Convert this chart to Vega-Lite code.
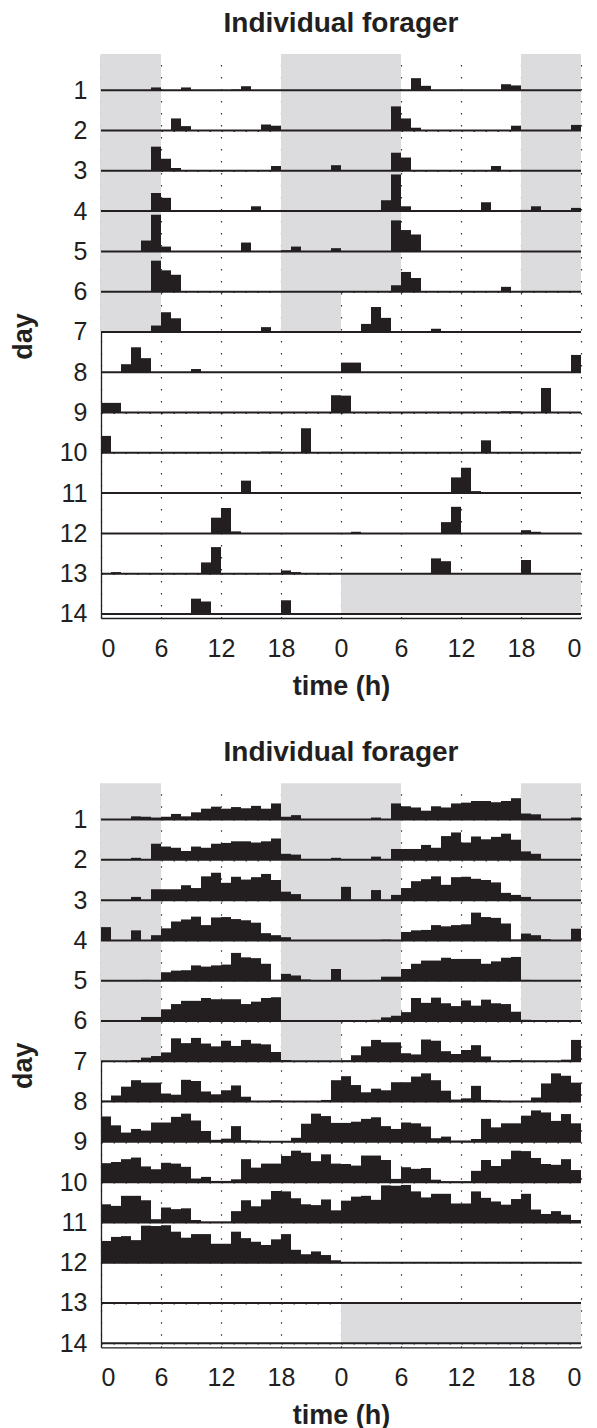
{
  "$schema": "https://vega.github.io/schema/vega-lite/v6.json",
  "autosize": {"type": "pad"},
  "padding": {"left": 9, "top": 9, "right": 5, "bottom": 0},
  "background": "white",
  "bounds": "flush",
  "spacing": 165.3,
  "config": {
    "view": {"stroke": null},
    "font": "Liberation Sans",
    "axis": {
      "domainColor": "#231f20", "domainWidth": 1.3,
      "labelFont": "Liberation Sans", "labelFontSize": 25, "labelColor": "#231f20",
      "titleFont": "Liberation Sans", "titleFontSize": 27, "titleFontWeight": "bold", "titleColor": "#231f20",
      "ticks": false, "grid": true, "gridDash": [1.5, 10.5], "gridColor": "#333333", "gridWidth": 1.2,
      "zindex": 1
    },
    "axisX": {"labelPadding": 18, "titlePadding": 12},
    "axisY": {"labelPadding": 14, "titlePadding": 22},
    "title": {"font": "Liberation Sans", "fontSize": 28, "fontWeight": "bold", "color": "#231f20", "baseline": "alphabetic", "offset": 16.5, "anchor": "middle"}
  },
  "datasets": {
    "rows": [{"r":1},{"r":2},{"r":3},{"r":4},{"r":5},{"r":6},{"r":7},{"r":8},{"r":9},{"r":10},{"r":11},{"r":12},{"r":13},{"r":14}],
    "shade": [
      {"r":1,"a":0,"b":6},{"r":1,"a":18,"b":30},{"r":1,"a":42,"b":48},
      {"r":2,"a":0,"b":6},{"r":2,"a":18,"b":30},{"r":2,"a":42,"b":48},
      {"r":3,"a":0,"b":6},{"r":3,"a":18,"b":30},{"r":3,"a":42,"b":48},
      {"r":4,"a":0,"b":6},{"r":4,"a":18,"b":30},{"r":4,"a":42,"b":48},
      {"r":5,"a":0,"b":6},{"r":5,"a":18,"b":30},{"r":5,"a":42,"b":48},
      {"r":6,"a":0,"b":6},{"r":6,"a":18,"b":30},{"r":6,"a":42,"b":48},
      {"r":7,"a":0,"b":6},{"r":7,"a":18,"b":24},
      {"r":14,"a":24,"b":48}
    ],
    "top": [
      {"d":1,"h":5,"v":0.07},{"d":1,"h":8,"v":0.07},{"d":1,"h":13,"v":0.02},{"d":1,"h":14,"v":0.1},
      {"d":2,"h":7,"v":0.3},{"d":2,"h":8,"v":0.11},{"d":2,"h":16,"v":0.15},{"d":2,"h":17,"v":0.12},
      {"d":3,"h":5,"v":0.6},{"d":3,"h":6,"v":0.3},{"d":3,"h":7,"v":0.07},{"d":3,"h":17,"v":0.12},{"d":3,"h":23,"v":0.14},
      {"d":4,"h":5,"v":0.45},{"d":4,"h":6,"v":0.33},{"d":4,"h":15,"v":0.12},
      {"d":5,"h":4,"v":0.27},{"d":5,"h":5,"v":0.91},{"d":5,"h":6,"v":0.12},{"d":5,"h":14,"v":0.22},{"d":5,"h":18,"v":0.03},{"d":5,"h":19,"v":0.12},{"d":5,"h":23,"v":0.08},
      {"d":6,"h":5,"v":0.77},{"d":6,"h":6,"v":0.53},{"d":6,"h":7,"v":0.42},
      {"d":7,"h":5,"v":0.16},{"d":7,"h":6,"v":0.49},{"d":7,"h":7,"v":0.34},{"d":7,"h":16,"v":0.12},
      {"d":8,"h":2,"v":0.2},{"d":8,"h":3,"v":0.62},{"d":8,"h":4,"v":0.35},{"d":8,"h":9,"v":0.08},
      {"d":9,"h":0,"v":0.24},{"d":9,"h":1,"v":0.24},{"d":9,"h":23,"v":0.43},
      {"d":10,"h":0,"v":0.42},{"d":10,"h":16,"v":0.03},{"d":10,"h":17,"v":0.03},{"d":10,"h":20,"v":0.61},
      {"d":11,"h":14,"v":0.31},
      {"d":12,"h":11,"v":0.39},{"d":12,"h":12,"v":0.63},{"d":12,"h":13,"v":0.05},
      {"d":13,"h":1,"v":0.04},{"d":13,"h":10,"v":0.28},{"d":13,"h":11,"v":0.66},{"d":13,"h":18,"v":0.08},{"d":13,"h":19,"v":0.04},
      {"d":14,"h":9,"v":0.38},{"d":14,"h":10,"v":0.31},{"d":14,"h":18,"v":0.34}
    ],
    "bot": [
      {"d":1,"h":3,"v":0.08},{"d":1,"h":4,"v":0.07},{"d":1,"h":5,"v":0.05},{"d":1,"h":6,"v":0.07},{"d":1,"h":7,"v":0.14},{"d":1,"h":8,"v":0.08},{"d":1,"h":9,"v":0.18},{"d":1,"h":10,"v":0.27},{"d":1,"h":11,"v":0.32},{"d":1,"h":12,"v":0.27},{"d":1,"h":13,"v":0.31},{"d":1,"h":14,"v":0.28},{"d":1,"h":15,"v":0.34},{"d":1,"h":16,"v":0.27},{"d":1,"h":17,"v":0.4},{"d":1,"h":18,"v":0.07},{"d":1,"h":19,"v":0.11},
      {"d":2,"h":3,"v":0.05},{"d":2,"h":5,"v":0.4},{"d":2,"h":6,"v":0.33},{"d":2,"h":7,"v":0.3},{"d":2,"h":8,"v":0.22},{"d":2,"h":9,"v":0.33},{"d":2,"h":10,"v":0.3},{"d":2,"h":11,"v":0.4},{"d":2,"h":12,"v":0.42},{"d":2,"h":13,"v":0.46},{"d":2,"h":14,"v":0.46},{"d":2,"h":15,"v":0.43},{"d":2,"h":16,"v":0.46},{"d":2,"h":17,"v":0.53},{"d":2,"h":18,"v":0.15},{"d":2,"h":19,"v":0.13},{"d":2,"h":23,"v":0.05},
      {"d":3,"h":3,"v":0.08},{"d":3,"h":5,"v":0.27},{"d":3,"h":6,"v":0.27},{"d":3,"h":7,"v":0.27},{"d":3,"h":8,"v":0.37},{"d":3,"h":9,"v":0.3},{"d":3,"h":10,"v":0.59},{"d":3,"h":11,"v":0.68},{"d":3,"h":12,"v":0.43},{"d":3,"h":13,"v":0.58},{"d":3,"h":14,"v":0.51},{"d":3,"h":15,"v":0.57},{"d":3,"h":16,"v":0.65},{"d":3,"h":17,"v":0.5},{"d":3,"h":18,"v":0.21},{"d":3,"h":19,"v":0.15},
      {"d":4,"h":0,"v":0.33},{"d":4,"h":3,"v":0.25},{"d":4,"h":5,"v":0.13},{"d":4,"h":6,"v":0.3},{"d":4,"h":7,"v":0.47},{"d":4,"h":8,"v":0.52},{"d":4,"h":9,"v":0.59},{"d":4,"h":10,"v":0.38},{"d":4,"h":11,"v":0.57},{"d":4,"h":12,"v":0.58},{"d":4,"h":13,"v":0.53},{"d":4,"h":14,"v":0.5},{"d":4,"h":15,"v":0.44},{"d":4,"h":16,"v":0.18},{"d":4,"h":17,"v":0.13},{"d":4,"h":18,"v":0.08},
      {"d":5,"h":4,"v":0.02},{"d":5,"h":6,"v":0.21},{"d":5,"h":7,"v":0.25},{"d":5,"h":8,"v":0.26},{"d":5,"h":9,"v":0.38},{"d":5,"h":10,"v":0.35},{"d":5,"h":11,"v":0.38},{"d":5,"h":12,"v":0.4},{"d":5,"h":13,"v":0.69},{"d":5,"h":14,"v":0.58},{"d":5,"h":15,"v":0.56},{"d":5,"h":16,"v":0.42},{"d":5,"h":17,"v":0.02},{"d":5,"h":18,"v":0.17},{"d":5,"h":19,"v":0.13},{"d":5,"h":20,"v":0.03},{"d":5,"h":23,"v":0.29},
      {"d":6,"h":3,"v":0.02},{"d":6,"h":4,"v":0.1},{"d":6,"h":5,"v":0.1},{"d":6,"h":6,"v":0.29},{"d":6,"h":7,"v":0.42},{"d":6,"h":8,"v":0.5},{"d":6,"h":9,"v":0.5},{"d":6,"h":10,"v":0.57},{"d":6,"h":11,"v":0.54},{"d":6,"h":12,"v":0.54},{"d":6,"h":13,"v":0.54},{"d":6,"h":14,"v":0.42},{"d":6,"h":15,"v":0.48},{"d":6,"h":16,"v":0.57},{"d":6,"h":17,"v":0.59},{"d":6,"h":18,"v":0.02},
      {"d":7,"h":3,"v":0.03},{"d":7,"h":4,"v":0.09},{"d":7,"h":5,"v":0.13},{"d":7,"h":6,"v":0.22},{"d":7,"h":7,"v":0.57},{"d":7,"h":8,"v":0.45},{"d":7,"h":9,"v":0.58},{"d":7,"h":10,"v":0.44},{"d":7,"h":11,"v":0.37},{"d":7,"h":12,"v":0.51},{"d":7,"h":13,"v":0.38},{"d":7,"h":14,"v":0.53},{"d":7,"h":15,"v":0.44},{"d":7,"h":16,"v":0.42},{"d":7,"h":17,"v":0.23},{"d":7,"h":18,"v":0.03},
      {"d":8,"h":0,"v":0.02},{"d":8,"h":1,"v":0.15},{"d":8,"h":2,"v":0.37},{"d":8,"h":3,"v":0.53},{"d":8,"h":4,"v":0.47},{"d":8,"h":5,"v":0.47},{"d":8,"h":6,"v":0.2},{"d":8,"h":7,"v":0.17},{"d":8,"h":8,"v":0.54},{"d":8,"h":9,"v":0.51},{"d":8,"h":10,"v":0.25},{"d":8,"h":11,"v":0.18},{"d":8,"h":12,"v":0.28},{"d":8,"h":13,"v":0.4},{"d":8,"h":14,"v":0.12},{"d":8,"h":17,"v":0.03},{"d":8,"h":22,"v":0.04},{"d":8,"h":23,"v":0.53},
      {"d":9,"h":0,"v":0.63},{"d":9,"h":1,"v":0.41},{"d":9,"h":2,"v":0.23},{"d":9,"h":3,"v":0.32},{"d":9,"h":4,"v":0.28},{"d":9,"h":5,"v":0.48},{"d":9,"h":6,"v":0.48},{"d":9,"h":7,"v":0.62},{"d":9,"h":8,"v":0.7},{"d":9,"h":9,"v":0.53},{"d":9,"h":10,"v":0.27},{"d":9,"h":11,"v":0.05},{"d":9,"h":12,"v":0.08},{"d":9,"h":13,"v":0.39},{"d":9,"h":14,"v":0.04},{"d":9,"h":15,"v":0.03},{"d":9,"h":19,"v":0.1},{"d":9,"h":20,"v":0.45},{"d":9,"h":21,"v":0.7},{"d":9,"h":22,"v":0.64},{"d":9,"h":23,"v":0.47},
      {"d":10,"h":0,"v":0.47},{"d":10,"h":1,"v":0.5},{"d":10,"h":2,"v":0.57},{"d":10,"h":3,"v":0.61},{"d":10,"h":4,"v":0.39},{"d":10,"h":5,"v":0.32},{"d":10,"h":6,"v":0.48},{"d":10,"h":7,"v":0.46},{"d":10,"h":8,"v":0.38},{"d":10,"h":9,"v":0.09},{"d":10,"h":10,"v":0.13},{"d":10,"h":11,"v":0.03},{"d":10,"h":12,"v":0.03},{"d":10,"h":13,"v":0.07},{"d":10,"h":14,"v":0.57},{"d":10,"h":15,"v":0.36},{"d":10,"h":16,"v":0.46},{"d":10,"h":17,"v":0.46},{"d":10,"h":18,"v":0.65},{"d":10,"h":19,"v":0.78},{"d":10,"h":20,"v":0.73},{"d":10,"h":21,"v":0.52},{"d":10,"h":22,"v":0.69},{"d":10,"h":23,"v":0.46},
      {"d":11,"h":0,"v":0.45},{"d":11,"h":1,"v":0.41},{"d":11,"h":2,"v":0.66},{"d":11,"h":3,"v":0.66},{"d":11,"h":4,"v":0.55},{"d":11,"h":5,"v":0.08},{"d":11,"h":6,"v":0.37},{"d":11,"h":7,"v":0.33},{"d":11,"h":8,"v":0.35},{"d":11,"h":9,"v":0.06},{"d":11,"h":10,"v":0.02},{"d":11,"h":11,"v":0.02},{"d":11,"h":12,"v":0.02},{"d":11,"h":13,"v":0.28},{"d":11,"h":14,"v":0.55},{"d":11,"h":15,"v":0.4},{"d":11,"h":16,"v":0.57},{"d":11,"h":17,"v":0.78},{"d":11,"h":18,"v":0.77},{"d":11,"h":19,"v":0.6},{"d":11,"h":20,"v":0.45},{"d":11,"h":21,"v":0.43},{"d":11,"h":22,"v":0.57},{"d":11,"h":23,"v":0.3},
      {"d":12,"h":0,"v":0.54},{"d":12,"h":1,"v":0.64},{"d":12,"h":2,"v":0.66},{"d":12,"h":3,"v":0.56},{"d":12,"h":4,"v":0.92},{"d":12,"h":5,"v":0.91},{"d":12,"h":6,"v":0.93},{"d":12,"h":7,"v":0.77},{"d":12,"h":8,"v":0.62},{"d":12,"h":9,"v":0.71},{"d":12,"h":10,"v":0.71},{"d":12,"h":11,"v":0.47},{"d":12,"h":12,"v":0.47},{"d":12,"h":13,"v":0.77},{"d":12,"h":14,"v":0.61},{"d":12,"h":15,"v":0.52},{"d":12,"h":16,"v":0.44},{"d":12,"h":17,"v":0.58},{"d":12,"h":18,"v":0.71},{"d":12,"h":19,"v":0.32},{"d":12,"h":20,"v":0.21},{"d":12,"h":21,"v":0.28},{"d":12,"h":22,"v":0.19},{"d":12,"h":23,"v":0.06}
    ]
  },
  "vconcat": [
    {
      "width": 480, "height": 564,
      "title": {"text": "Individual forager"},
      "layer": [
        {
          "data": {"name": "shade"},
          "transform": [{"calculate": "datum.r - 1", "as": "r0"}],
          "mark": {"type": "rect", "color": "#dcdcde", "clip": true},
          "encoding": {
            "x": {"field": "a", "type": "quantitative", "title": "time (h)", "scale": {"domain": [0, 48], "nice": false, "zero": false},
                  "axis": {"values": [0, 6, 12, 18, 24, 30, 36, 42, 48], "labelExpr": "datum.value % 24"}},
            "x2": {"field": "b"},
            "y": {"field": "r0", "type": "quantitative", "title": "day", "scale": {"domain": [0.1, 14.1], "reverse": true, "nice": false, "zero": false},
                  "axis": {"values": [1, 2, 3, 4, 5, 6, 7, 8, 9, 10, 11, 12, 13, 14]}},
            "y2": {"field": "r"}
          }
        },
        {
          "data": {"name": "rows"},
          "mark": {"type": "rule", "color": "#231f20", "strokeWidth": 2},
          "encoding": {
            "x": {"datum": 0, "type": "quantitative", "title": "time (h)"},
            "x2": {"datum": 48},
            "y": {"field": "r", "type": "quantitative", "title": "day"}
          }
        },
        {
          "data": {"name": "top"},
          "transform": [{"calculate": "datum.h + 1", "as": "h1"}, {"calculate": "datum.d - datum.v", "as": "t"}],
          "mark": {"type": "rect", "color": "#231f20"},
          "encoding": {
            "x": {"field": "h", "type": "quantitative", "title": "time (h)"},
            "x2": {"field": "h1"},
            "y": {"field": "t", "type": "quantitative", "title": "day"},
            "y2": {"field": "d"}
          }
        },
        {
          "data": {"name": "top"},
          "transform": [{"filter": "datum.d >= 2"}, {"calculate": "datum.h + 24", "as": "hs"}, {"calculate": "datum.h + 25", "as": "he"}, {"calculate": "datum.d - 1", "as": "rw"}, {"calculate": "datum.d - 1 - datum.v", "as": "t"}],
          "mark": {"type": "rect", "color": "#231f20"},
          "encoding": {
            "x": {"field": "hs", "type": "quantitative", "title": "time (h)"},
            "x2": {"field": "he"},
            "y": {"field": "t", "type": "quantitative", "title": "day"},
            "y2": {"field": "rw"}
          }
        }
      ]
    },
    {
      "width": 480, "height": 564,
      "title": {"text": "Individual forager"},
      "layer": [
        {
          "data": {"name": "shade"},
          "transform": [{"calculate": "datum.r - 1", "as": "r0"}],
          "mark": {"type": "rect", "color": "#dcdcde", "clip": true},
          "encoding": {
            "x": {"field": "a", "type": "quantitative", "title": "time (h)", "scale": {"domain": [0, 48], "nice": false, "zero": false},
                  "axis": {"values": [0, 6, 12, 18, 24, 30, 36, 42, 48], "labelExpr": "datum.value % 24"}},
            "x2": {"field": "b"},
            "y": {"field": "r0", "type": "quantitative", "title": "day", "scale": {"domain": [0.1, 14.1], "reverse": true, "nice": false, "zero": false},
                  "axis": {"values": [1, 2, 3, 4, 5, 6, 7, 8, 9, 10, 11, 12, 13, 14]}},
            "y2": {"field": "r"}
          }
        },
        {
          "data": {"name": "rows"},
          "mark": {"type": "rule", "color": "#231f20", "strokeWidth": 2},
          "encoding": {
            "x": {"datum": 0, "type": "quantitative", "title": "time (h)"},
            "x2": {"datum": 48},
            "y": {"field": "r", "type": "quantitative", "title": "day"}
          }
        },
        {
          "data": {"name": "bot"},
          "transform": [{"calculate": "datum.h + 1", "as": "h1"}, {"calculate": "datum.d - datum.v", "as": "t"}],
          "mark": {"type": "rect", "color": "#231f20"},
          "encoding": {
            "x": {"field": "h", "type": "quantitative", "title": "time (h)"},
            "x2": {"field": "h1"},
            "y": {"field": "t", "type": "quantitative", "title": "day"},
            "y2": {"field": "d"}
          }
        },
        {
          "data": {"name": "bot"},
          "transform": [{"filter": "datum.d >= 2"}, {"calculate": "datum.h + 24", "as": "hs"}, {"calculate": "datum.h + 25", "as": "he"}, {"calculate": "datum.d - 1", "as": "rw"}, {"calculate": "datum.d - 1 - datum.v", "as": "t"}],
          "mark": {"type": "rect", "color": "#231f20"},
          "encoding": {
            "x": {"field": "hs", "type": "quantitative", "title": "time (h)"},
            "x2": {"field": "he"},
            "y": {"field": "t", "type": "quantitative", "title": "day"},
            "y2": {"field": "rw"}
          }
        }
      ]
    }
  ]
}
